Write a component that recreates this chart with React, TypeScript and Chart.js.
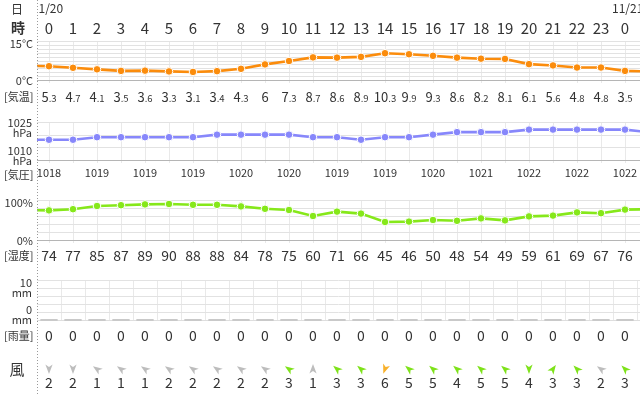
import React, { useEffect, useRef } from 'react';
import { Chart, registerables } from 'chart.js';

Chart.register(...registerables);

// ---------- data ----------
const dateLabels = ['1/20', '11/21'];
const hourLabels = ['0','1','2','3','4','5','6','7','8','9','10','11','12','13','14','15','16','17','18','19','20','21','22','23','0'];
const temperature = [5.3, 4.7, 4.1, 3.5, 3.6, 3.3, 3.1, 3.4, 4.3, 6, 7.3, 8.7, 8.6, 8.9, 10.3, 9.9, 9.3, 8.6, 8.2, 8.1, 6.1, 5.6, 4.8, 4.8, 3.5];
const temperatureEdges = [5.5, 3.3]; // hour before / hour after the visible range
const pressure = [1018, 1018, 1019, 1019, 1019, 1019, 1019, 1020, 1020, 1020, 1020, 1019, 1019, 1018, 1019, 1019, 1020, 1021, 1021, 1021, 1022, 1022, 1022, 1022, 1022];
const pressureEdges = [1018, 1021];
const pressureLabels = ['1018', '1019', '1019', '1019', '1020', '1020', '1019', '1019', '1020', '1021', '1022', '1022', '1022']; // every 2 hours
const humidity = [74, 77, 85, 87, 89, 90, 88, 88, 84, 78, 75, 60, 71, 66, 45, 46, 50, 48, 54, 49, 59, 61, 69, 67, 76];
const humidityEdges = [75, 77];
const rainfall = [0, 0, 0, 0, 0, 0, 0, 0, 0, 0, 0, 0, 0, 0, 0, 0, 0, 0, 0, 0, 0, 0, 0, 0, 0];
const windSpeed = [2, 2, 1, 1, 1, 2, 2, 2, 2, 2, 3, 1, 3, 3, 6, 5, 5, 4, 5, 5, 4, 3, 3, 2, 3];
const windDirection = [180, 180, -55, -55, -55, -55, -55, -55, -55, -55, -55, 0, -50, -50, 200, -50, -50, -50, -50, -50, 180, 35, -45, -55, -45];

// ---------- layout ----------
const W = 640;
const H = 395;
const LEFT = 37;
const FONT = '"Noto Sans CJK JP", "Noto Sans", sans-serif';

const panels = {
  temp: { top: 41, bottom: 80, vTop: 15, vBot: 0, step: 1.5 },
  pres: { top: 122, bottom: 160, vTop: 1025, vBot: 1010, step: 5 },
  hum: { top: 200, bottom: 240, vTop: 100, vBot: 0, step: 20 },
  rain: { top: 280, bottom: 320, vTop: 10, vBot: 0, step: 2 },
};

function axisRange(p: { top: number; bottom: number; vTop: number; vBot: number }) {
  const k = (p.bottom - p.top) / (p.vTop - p.vBot);
  return { min: p.vBot - (H - p.bottom) / k, max: p.vTop + p.top / k };
}

function series(values: number[], edges: number[]) {
  const pts = values.map((v, i) => ({ x: i, y: v }));
  return [{ x: -1, y: edges[0] }, ...pts, { x: values.length, y: edges[1] }];
}

function hLine(ctx: CanvasRenderingContext2D, x1: number, x2: number, y: number, color: string) {
  ctx.strokeStyle = color;
  ctx.beginPath();
  ctx.moveTo(x1, y);
  ctx.lineTo(x2, y);
  ctx.stroke();
}
function vLine(ctx: CanvasRenderingContext2D, x: number, y1: number, y2: number, color: string) {
  ctx.strokeStyle = color;
  ctx.beginPath();
  ctx.moveTo(x, y1);
  ctx.lineTo(x, y2);
  ctx.stroke();
}

function drawArrow(ctx: CanvasRenderingContext2D, x: number, y: number, deg: number, color: string) {
  ctx.save();
  ctx.translate(x, y);
  ctx.rotate((deg * Math.PI) / 180);
  ctx.beginPath();
  ctx.moveTo(0, -5);
  ctx.lineTo(3.6, 4.5);
  ctx.lineTo(0, 2);
  ctx.lineTo(-3.6, 4.5);
  ctx.closePath();
  ctx.fillStyle = color;
  ctx.fill();
  ctx.restore();
}

function windColor(s: number) {
  if (s >= 6) return '#f8b12c';
  if (s >= 3) return '#7ee21a';
  return '#bdbdbd';
}

const weatherPlugin = {
  id: 'weatherDecor',
  beforeDatasetsDraw(chart: any) {
    const ctx: CanvasRenderingContext2D = chart.ctx;
    const area = chart.chartArea;
    const xs = chart.scales.x;
    ctx.save();
    ctx.lineWidth = 1;
    const defs: [keyof typeof panels, string, boolean][] = [
      ['temp', 'yT', false],
      ['pres', 'yP', false],
      ['hum', 'yH', false],
      ['rain', 'yR', true],
    ];
    for (const [key, axisId, half] of defs) {
      const p = panels[key];
      const ys = chart.scales[axisId];
      const yTop = ys.getPixelForValue(p.vTop);
      const yBot = ys.getPixelForValue(p.vBot);
      for (let i = -1; i <= 25; i++) {
        const xv = half ? i + 0.5 : i;
        const x = Math.round(xs.getPixelForValue(xv)) + 0.5;
        if (x <= area.left + 1 || x > area.right) continue;
        vLine(ctx, x, yTop, yBot + (half ? 0 : 3), '#e9e9e9');
      }
      const n = Math.round((p.vTop - p.vBot) / p.step);
      for (let j = 0; j <= n; j++) {
        const v = p.vBot + j * p.step;
        const y = Math.round(ys.getPixelForValue(v)) + 0.5;
        let c = '#e2e2e2';
        if (j === 0) c = key === 'rain' ? '#dedede' : '#b5b5b5';
        hLine(ctx, area.left, area.right, y, c);
      }
    }
    ctx.restore();
  },
  afterDatasetsDraw(chart: any) {
    const ctx: CanvasRenderingContext2D = chart.ctx;
    const area = chart.chartArea;
    const xs = chart.scales.x;
    const yT = chart.scales.yT;
    const yP = chart.scales.yP;
    const yH = chart.scales.yH;
    const yR = chart.scales.yR;
    ctx.save();
    const text = '#333333';
    ctx.fillStyle = text;

    // left dotted line
    ctx.setLineDash([1, 2]);
    ctx.lineWidth = 1;
    vLine(ctx, area.left + 0.5, 0, H, '#9a9a9a');
    ctx.setLineDash([]);

    // header
    ctx.textAlign = 'center';
    ctx.textBaseline = 'middle';
    ctx.font = `12px ${FONT}`;
    ctx.fillText('日', 17, 9);
    ctx.font = `bold 14px ${FONT}`;
    ctx.fillText('時', 18, 28);
    ctx.textBaseline = 'alphabetic';
    ctx.textAlign = 'left';
    ctx.font = `12px ${FONT}`;
    ctx.fillText(dateLabels[0], area.left + 1.5, 13);
    ctx.fillText(dateLabels[1], xs.getPixelForValue(24) - 13, 13);
    ctx.textAlign = 'center';
    ctx.font = `15px ${FONT}`;
    hourLabels.forEach((h, i) => ctx.fillText(h, xs.getPixelForValue(i), 33.5));

    // left axis labels
    ctx.textAlign = 'right';
    ctx.font = `11px ${FONT}`;
    ctx.fillText('15°C', 33, yT.getPixelForValue(15) + 6.5);
    ctx.fillText('0°C', 33, yT.getPixelForValue(0) + 5);
    ctx.fillText('1025', 32, yP.getPixelForValue(1025) + 5);
    ctx.fillText('hPa', 32, yP.getPixelForValue(1025) + 15);
    ctx.fillText('1010', 32, yP.getPixelForValue(1010) - 5);
    ctx.fillText('hPa', 32, yP.getPixelForValue(1010) + 5);
    ctx.fillText('100%', 33, yH.getPixelForValue(100) + 7);
    ctx.fillText('0%', 33, yH.getPixelForValue(0) + 5);
    ctx.fillText('10', 32, yR.getPixelForValue(10) + 7);
    ctx.fillText('mm', 32, yR.getPixelForValue(10) + 17);
    ctx.fillText('0', 32, yR.getPixelForValue(0) - 6.5);
    ctx.fillText('mm', 32, yR.getPixelForValue(0) + 4);
    ctx.textBaseline = 'middle';
    ctx.fillText('[気温]', 33.5, 97);
    ctx.fillText('[気圧]', 33.5, 175);
    ctx.fillText('[湿度]', 33.5, 256);
    ctx.fillText('[雨量]', 33.5, 336);
    ctx.textAlign = 'center';
    ctx.font = `15px ${FONT}`;
    ctx.fillText('風', 17, 369);

    // temperature values (integer + small decimals)
    ctx.textBaseline = 'alphabetic';
    temperature.forEach((t, i) => {
      const s = String(t);
      const [ip, dp] = s.split('.');
      const big = `13px ${FONT}`;
      const small = `9.5px ${FONT}`;
      ctx.font = big;
      const w1 = ctx.measureText(ip).width;
      let w2 = 0;
      if (dp) {
        ctx.font = small;
        w2 = ctx.measureText('.' + dp).width;
      }
      const x0 = xs.getPixelForValue(i) - (w1 + w2) / 2;
      ctx.textAlign = 'left';
      ctx.font = big;
      ctx.fillText(ip, x0, 102);
      if (dp) {
        ctx.font = small;
        ctx.fillText('.' + dp, x0 + w1, 102);
      }
    });

    // pressure labels every 2 hours
    ctx.textAlign = 'center';
    ctx.font = `11px ${FONT}`;
    pressureLabels.forEach((p, k) => ctx.fillText(p, xs.getPixelForValue(k * 2), 177));

    // humidity values
    ctx.font = `14px ${FONT}`;
    humidity.forEach((h, i) => ctx.fillText(String(h), xs.getPixelForValue(i), 260.5));

    // rainfall values
    rainfall.forEach((r, i) => ctx.fillText(String(r), xs.getPixelForValue(i), 340.5));

    // wind
    windSpeed.forEach((s, i) => {
      const x = xs.getPixelForValue(i);
      drawArrow(ctx, x, 369, windDirection[i], windColor(s));
      ctx.fillStyle = text;
      ctx.font = `14px ${FONT}`;
      ctx.fillText(String(s), x, 387.5);
    });
    ctx.restore();
  },
};

export default function App() {
  const ref = useRef<HTMLCanvasElement>(null);
  useEffect(() => {
    document.body.style.margin = '0';
    const canvas = ref.current;
    if (!canvas) return;
    const rT = axisRange(panels.temp);
    const rP = axisRange(panels.pres);
    const rH = axisRange(panels.hum);
    const rR = axisRange(panels.rain);
    const lineStyle = (color: string) => ({
      borderColor: color,
      backgroundColor: color,
      borderWidth: 2.6,
      pointRadius: 3.8,
      pointBackgroundColor: color,
      pointBorderColor: '#ffffff',
      pointBorderWidth: 1,
      tension: 0,
      fill: false,
    });
    const chart = new Chart(canvas, {
      type: 'line',
      data: {
        datasets: [
          { ...lineStyle('#fb8c0c'), data: series(temperature, temperatureEdges), yAxisID: 'yT' } as any,
          { ...lineStyle('#8787fb'), data: series(pressure, pressureEdges), yAxisID: 'yP' } as any,
          { ...lineStyle('#86e81a'), data: series(humidity, humidityEdges), yAxisID: 'yH' } as any,
          {
            type: 'bar',
            data: rainfall.map((r, i) => ({ x: i, y: r })),
            yAxisID: 'yR',
            backgroundColor: '#c9c9c9',
            borderWidth: 0,
            minBarLength: 2,
            barPercentage: 0.9,
            categoryPercentage: 0.8,
          } as any,
        ],
      },
      options: {
        responsive: false,
        animation: false,
        devicePixelRatio: 1,
        events: [],
        layout: { padding: { left: LEFT, right: 0, top: 0, bottom: 0 }, autoPadding: false },
        plugins: { legend: { display: false }, tooltip: { enabled: false }, title: { display: false } },
        scales: {
          x: { type: 'linear', display: false, offset: false, grid: { offset: false }, min: -0.5, max: -0.5 + (W - LEFT) / 24 },
          yT: { type: 'linear', display: false, min: rT.min, max: rT.max },
          yP: { type: 'linear', display: false, min: rP.min, max: rP.max },
          yH: { type: 'linear', display: false, min: rH.min, max: rH.max },
          yR: { type: 'linear', display: false, min: rR.min, max: rR.max },
        },
      } as any,
      plugins: [weatherPlugin],
    });
    return () => chart.destroy();
  }, []);
  return (
    <div style={{ width: W, height: H, background: '#ffffff' }}>
      <canvas ref={ref} width={W} height={H} style={{ display: 'block' }} />
    </div>
  );
}
